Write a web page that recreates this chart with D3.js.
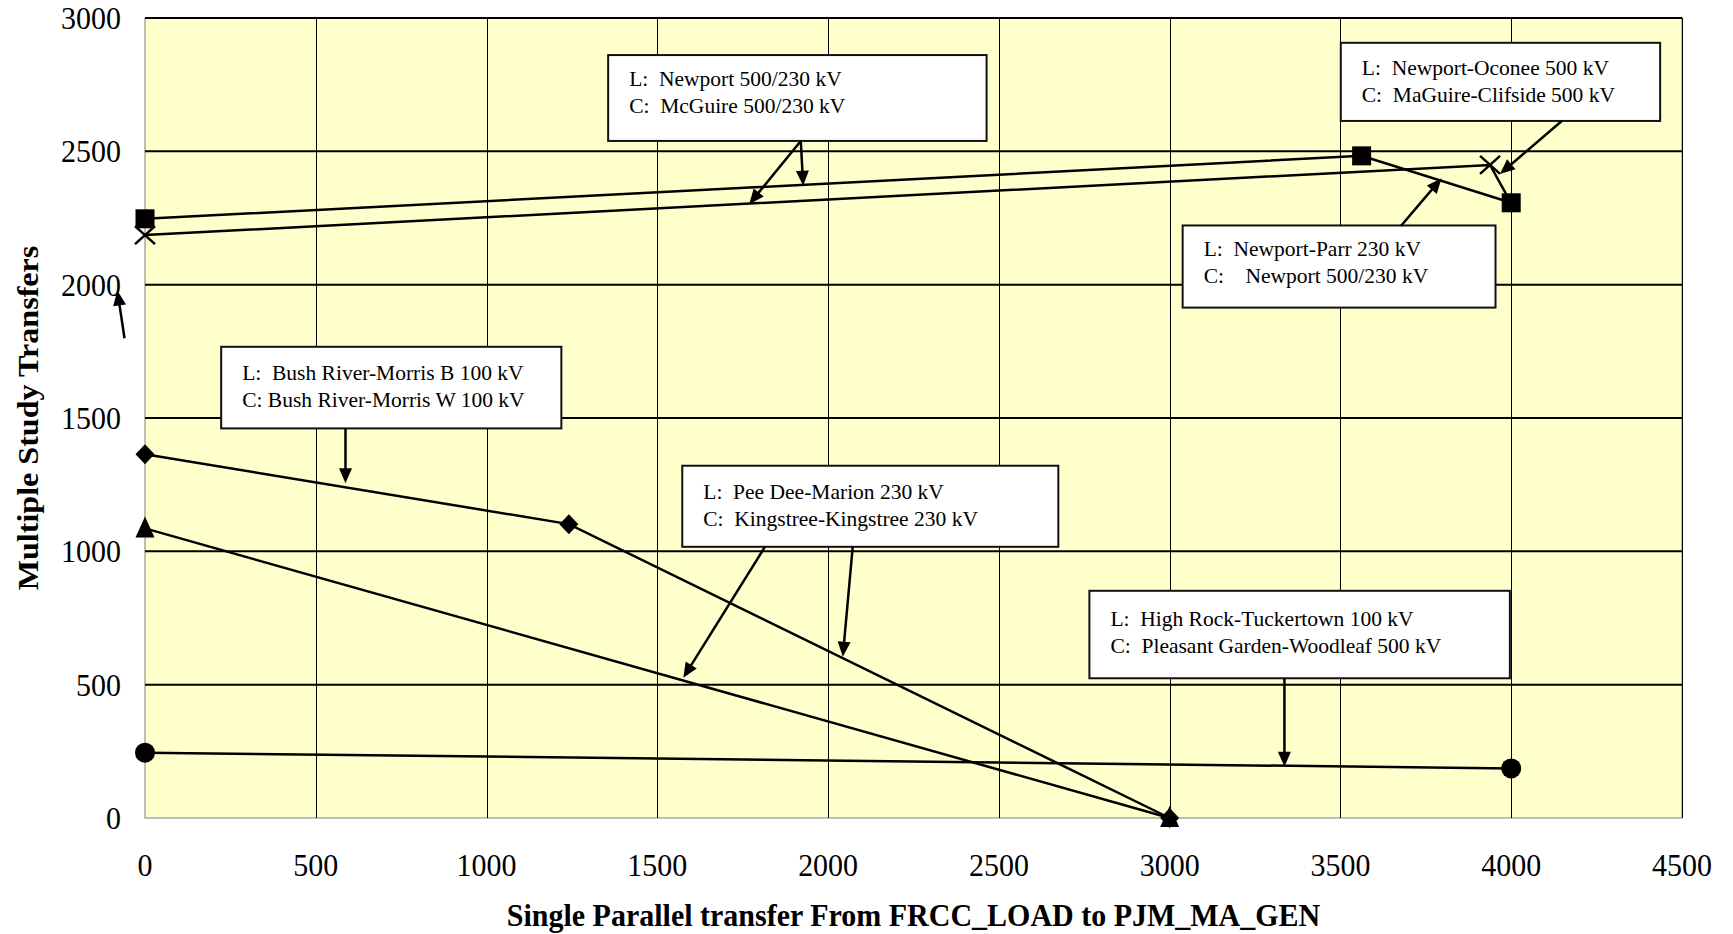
<!DOCTYPE html>
<html><head><meta charset="utf-8">
<script src="https://cdn.jsdelivr.net/npm/d3@7"></script>
<style>
body{margin:0;background:#fff;}
svg{display:block;font-family:"Liberation Serif","Times New Roman",serif;}
</style>
</head><body>
<svg id="chart" width="1733" height="934"></svg>
<script>
// ---- data ----
const xTicks = [0, 500, 1000, 1500, 2000, 2500, 3000, 3500, 4000, 4500];
const yTicks = [0, 500, 1000, 1500, 2000, 2500, 3000];

const squareX = [0, 3562, 4000];
const squareY = [2247, 2483, 2307];
const crossX = [0, 3938, 4000];
const crossY = [2186, 2449, 2305];
const diamondX = [0, 1241, 3000];
const diamondY = [1364, 1102, 0];
const triangleX = [0, 3000];
const triangleY = [1086, 0];
const circleX = [0, 4000];
const circleY = [245, 186];

const xTitle = "Single Parallel transfer From FRCC_LOAD to PJM_MA_GEN";
const yTitle = "Multiple Study Transfers";

// annotation callouts (box corners and arrows in data units)
const annotations = [
  {lines:["L:  Newport 500/230 kV","C:  McGuire 500/230 kV"], box:[1356,2861,2464,2539], dy:31,
   arrows:[[1920,2539,1927,2371],[1920,2539,1769,2302]]},
  {lines:["L:  Newport-Oconee 500 kV","C:  MaGuire-Clifside 500 kV"], box:[3501,2907,4436,2614], dy:32,
   arrows:[[4148,2614,3967,2415]]},
  {lines:["L:  Newport-Parr 230 kV","C:    Newport 500/230 kV"], box:[3038,2222,3954,1914], dy:31,
   arrows:[[3677,2220,3796,2399]]},
  {lines:["L:  Bush River-Morris B 100 kV","C: Bush River-Morris W 100 kV"], box:[223,1767,1219,1461], dy:33,
   arrows:[[587,1461,587,1255]]},
  {lines:["L:  Pee Dee-Marion 230 kV","C:  Kingstree-Kingstree 230 kV"], box:[1573,1321,2674,1017], dy:33,
   arrows:[[1815,1017,1576,526],[2072,1017,2043,605]]},
  {lines:["L:  High Rock-Tuckertown 100 kV","C:  Pleasant Garden-Woodleaf 500 kV"], box:[2765,852,3996,524], dy:35,
   arrows:[[3336,524,3336,192]]}
];
const strayArrows = [[-60,1799,-81,1978]];

// ---- chart ----
const svg = d3.select("#chart");
const x = d3.scaleLinear().domain([0, 4500]).range([145, 1682]);
const y = d3.scaleLinear().domain([0, 3000]).range([818, 18]);
const STRETCH = 1.07;

svg.append("rect")
  .attr("x", x(0)).attr("y", y(3000))
  .attr("width", x(4500) - x(0)).attr("height", y(0) - y(3000))
  .attr("fill", "#FFFFCC").attr("stroke", "#808080").attr("stroke-width", 1);

// vertical gridlines
svg.append("g").selectAll("line").data(xTicks.filter(d => d > 0)).join("line")
  .attr("x1", d => Math.round(x(d)) + 0.5).attr("x2", d => Math.round(x(d)) + 0.5)
  .attr("y1", y(3000)).attr("y2", y(0))
  .attr("stroke", "#000").attr("stroke-width", 1);
// horizontal gridlines
svg.append("g").selectAll("line").data(yTicks.filter(d => d > 0)).join("line")
  .attr("x1", x(0)).attr("x2", x(4500))
  .attr("y1", d => y(d)).attr("y2", d => y(d))
  .attr("stroke", "#000").attr("stroke-width", 2);

// tick labels
svg.append("g").selectAll("text").data(yTicks).join("text")
  .attr("transform", d => `translate(121,${y(d) + 11}) scale(1,${STRETCH})`)
  .attr("text-anchor", "end").attr("font-size", 30).attr("fill", "#000")
  .text(d => d);
svg.append("g").selectAll("text").data(xTicks).join("text")
  .attr("transform", d => `translate(${x(d)},876) scale(1,${STRETCH})`)
  .attr("text-anchor", "middle").attr("font-size", 30).attr("fill", "#000")
  .text(d => d);

// axis titles
svg.append("text")
  .attr("transform", `translate(${(x(0) + x(4500)) / 2},926) scale(1,1.04)`)
  .attr("text-anchor", "middle").attr("font-size", 30).attr("font-weight", "bold")
  .text(xTitle);
svg.append("text")
  .attr("transform", `translate(38,${(y(0) + y(3000)) / 2}) scale(1,${STRETCH}) rotate(-90)`)
  .attr("text-anchor", "middle").attr("font-size", 30).attr("font-weight", "bold")
  .text(yTitle);

// series
const line = d3.line().x(d => x(d[0])).y(d => y(d[1]));
const series = [
  {xs: squareX, ys: squareY, m: "square"},
  {xs: crossX, ys: crossY, m: "cross"},
  {xs: diamondX, ys: diamondY, m: "diamond"},
  {xs: triangleX, ys: triangleY, m: "triangle"},
  {xs: circleX, ys: circleY, m: "circle"}
];
const gLines = svg.append("g");
series.forEach(s => {
  const pts = s.xs.map((v, i) => [v, s.ys[i]]);
  gLines.append("path").attr("d", line(pts))
    .attr("fill", "none").attr("stroke", "#000").attr("stroke-width", 2.5);
});
const gMarks = svg.append("g");
series.forEach(s => {
  s.xs.forEach((v, i) => {
    const cx = x(v), cy = y(s.ys[i]);
    if (s.m === "square") {
      gMarks.append("rect").attr("x", cx - 9.5).attr("y", cy - 9.5)
        .attr("width", 19).attr("height", 19).attr("fill", "#000");
    } else if (s.m === "cross") {
      if (i === s.xs.length - 1) return; // hidden under square
      gMarks.append("path")
        .attr("d", `M${cx-10},${cy-9}L${cx+10},${cy+9}M${cx-10},${cy+9}L${cx+10},${cy-9}`)
        .attr("stroke", "#000").attr("stroke-width", 2.5).attr("fill", "none");
    } else if (s.m === "diamond") {
      gMarks.append("path")
        .attr("d", `M${cx},${cy-10}L${cx+9.5},${cy}L${cx},${cy+10}L${cx-9.5},${cy}Z`)
        .attr("fill", "#000");
    } else if (s.m === "triangle") {
      gMarks.append("path")
        .attr("d", `M${cx},${cy-12}L${cx+9.5},${cy+9}L${cx-9.5},${cy+9}Z`)
        .attr("fill", "#000");
    } else if (s.m === "circle") {
      gMarks.append("circle").attr("cx", cx).attr("cy", cy).attr("r", 10).attr("fill", "#000");
    }
  });
});

// arrows
function drawArrow(g, a) {
  const x1 = x(a[0]), y1 = y(a[1]), x2 = x(a[2]), y2 = y(a[3]);
  const dx = x2 - x1, dy = y2 - y1, len = Math.hypot(dx, dy);
  const ux = dx / len, uy = dy / len, px = -uy, py = ux;
  const L = 15, W = 6.5;
  g.append("line").attr("x1", x1).attr("y1", y1)
    .attr("x2", x2 - ux * (L - 3)).attr("y2", y2 - uy * (L - 3))
    .attr("stroke", "#000").attr("stroke-width", 2.5);
  const bx = x2 - ux * L, by = y2 - uy * L;
  g.append("path")
    .attr("d", `M${x2},${y2}L${bx + px * W},${by + py * W}L${bx - px * W},${by - py * W}Z`)
    .attr("fill", "#000");
}

const gAnn = svg.append("g");
annotations.forEach(a => {
  const bx0 = x(a.box[0]), by0 = y(a.box[1]), bx1 = x(a.box[2]), by1 = y(a.box[3]);
  gAnn.append("rect").attr("x", bx0).attr("y", by0)
    .attr("width", bx1 - bx0).attr("height", by1 - by0)
    .attr("fill", "#fff").attr("stroke", "#111").attr("stroke-width", 2);
  a.lines.forEach((t, i) => {
    gAnn.append("text").attr("x", bx0 + 21).attr("y", by0 + a.dy + i * 27)
      .attr("font-size", 21.5).attr("fill", "#000").style("white-space", "pre")
      .text(t);
  });
  a.arrows.forEach(ar => drawArrow(gAnn, ar));
});
strayArrows.forEach(ar => drawArrow(gAnn, ar));
</script>
</body></html>
